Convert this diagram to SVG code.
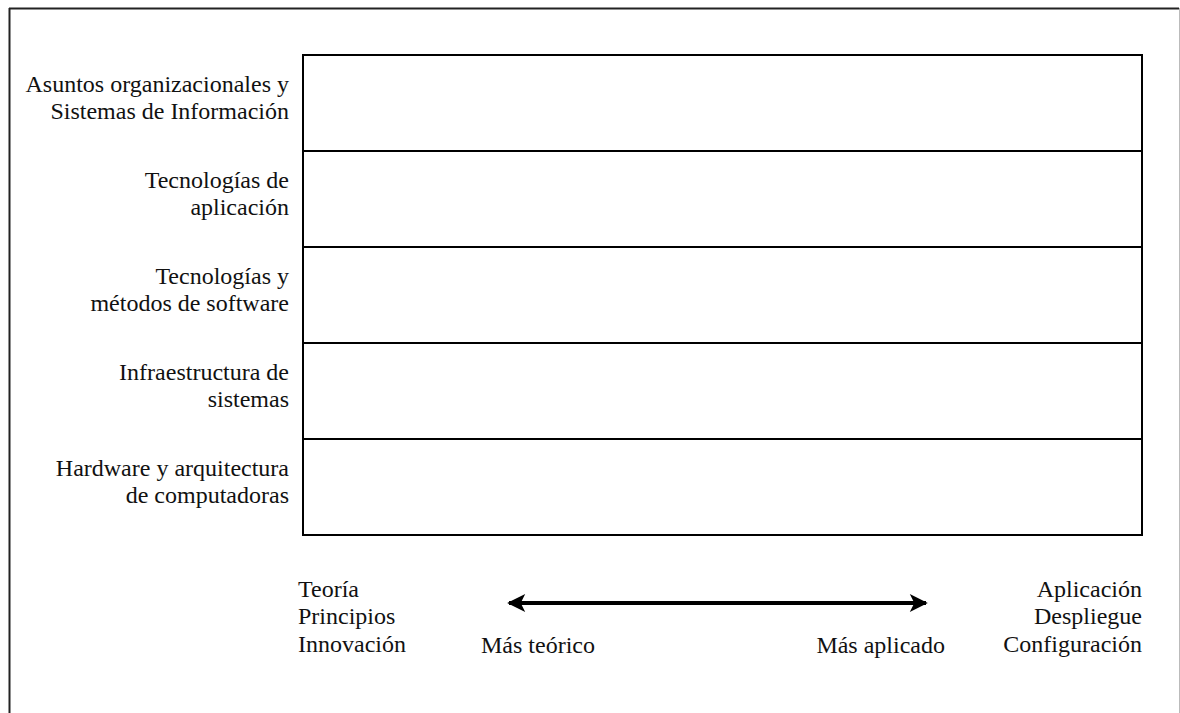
<svg xmlns="http://www.w3.org/2000/svg" width="1180" height="713" viewBox="0 0 1180 713">
<defs>
<style>
text{font-family:"Liberation Serif","Times New Roman",serif;font-size:24px;fill:#111}
.r{text-anchor:end}
.row{fill:#fff;stroke:#000;stroke-width:2}
</style>
<marker id="ah" viewBox="0 0 10 10" refX="9" refY="5" markerWidth="5" markerHeight="4.5" markerUnits="strokeWidth" orient="auto-start-reverse">
<path d="M0,0 L10,5 L0,10 L2.5,5 Z" fill="#000"/>
</marker>
</defs>
<rect width="1180" height="713" fill="#fff"/>
<g id="frame">
<line x1="9.5" y1="8" x2="9.5" y2="713" stroke="#222" stroke-width="2"/>
<line x1="9" y1="8.5" x2="1179" y2="8.5" stroke="#222" stroke-width="2"/>
<line x1="1179.5" y1="8" x2="1179.5" y2="713" stroke="#bbb" stroke-width="1"/>
</g>
<g id="row1"><rect class="row" x="303" y="55" width="839" height="96"/>
<text class="r" x="289" y="92">Asuntos organizacionales y</text>
<text class="r" x="289" y="119">Sistemas de Información</text></g>
<g id="row2"><rect class="row" x="303" y="151" width="839" height="96"/>
<text class="r" x="289" y="188">Tecnologías de</text>
<text class="r" x="289" y="215">aplicación</text></g>
<g id="row3"><rect class="row" x="303" y="247" width="839" height="96"/>
<text class="r" x="289" y="284">Tecnologías y</text>
<text class="r" x="289" y="311">métodos de software</text></g>
<g id="row4"><rect class="row" x="303" y="343" width="839" height="96"/>
<text class="r" x="289" y="380">Infraestructura de</text>
<text class="r" x="289" y="407">sistemas</text></g>
<g id="row5"><rect class="row" x="303" y="439" width="839" height="96"/>
<text class="r" x="289" y="476">Hardware y arquitectura</text>
<text class="r" x="289" y="503">de computadoras</text></g>
<g id="left-labels">
<text x="298" y="597">Teoría</text>
<text x="298" y="624">Principios</text>
<text x="298" y="652">Innovación</text>
</g>
<g id="right-labels">
<text class="r" x="1142" y="597">Aplicación</text>
<text class="r" x="1142" y="624">Despliegue</text>
<text class="r" x="1142" y="652">Configuración</text>
</g>
<g id="connectors">
<line x1="509" y1="603" x2="926" y2="603" stroke="#000" stroke-width="4" marker-start="url(#ah)" marker-end="url(#ah)"/>
</g>
<g id="axis-labels">
<text x="481" y="653">Más teórico</text>
<text class="r" x="945" y="653">Más aplicado</text>
</g>
</svg>
